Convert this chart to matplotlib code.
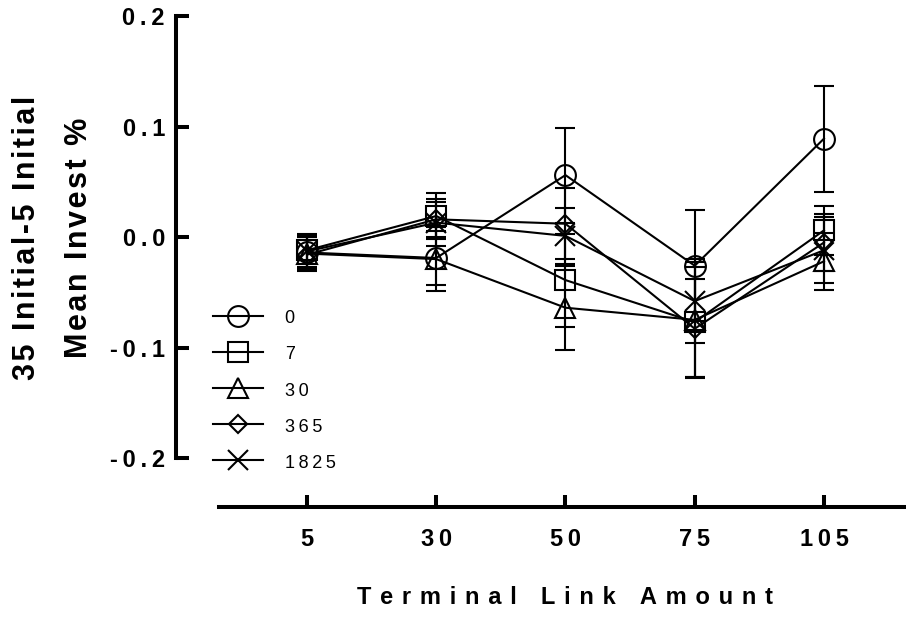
import matplotlib
matplotlib.use('Agg')
import matplotlib.pyplot as plt
from matplotlib.lines import Line2D

plt.rcParams['font.family'] = ['Liberation Sans', 'DejaVu Sans']

# ---------------- data ----------------
categories = ['5', '30', '50', '75', '105']
series_labels = ['0', '7', '30', '365', '1825']
mean_0 = [-0.014, -0.019, 0.056, -0.026, 0.089]
sem_0 = [0.014, 0.024, 0.043, 0.050, 0.048]
mean_7 = [-0.012, 0.019, -0.039, -0.077, 0.006]
sem_7 = [0.015, 0.021, 0.042, 0.050, 0.022]
mean_30 = [-0.015, -0.020, -0.064, -0.075, -0.022]
sem_30 = [0.016, 0.029, 0.038, 0.052, 0.026]
mean_365 = [-0.016, 0.016, 0.012, -0.083, -0.005]
sem_365 = [0.013, 0.016, 0.032, 0.045, 0.026]
mean_1825 = [-0.013, 0.013, 0.001, -0.058, -0.012]
sem_1825 = [0.015, 0.021, 0.025, 0.038, 0.030]
yticks = [-0.2, -0.1, 0.0, 0.1, 0.2]
ytick_labels = ['-0.2', '-0.1', '0.0', '0.1', '0.2']
xlabel = 'Terminal Link Amount'
ylabel_lines = ['35 Initial-5 Initial', 'Mean Invest %']

means = [mean_0, mean_7, mean_30, mean_365, mean_1825]
sems = [sem_0, sem_7, sem_30, sem_365, sem_1825]
markers = ['o', 's', '^', 'D', 'x']
msizes = [15, 15, 14, 9.5, 14.4]

TS = '\u2009'
HS = '\u200a'
def spaced(s, sep=TS):
    return sep.join(list(s))

W, H = 906, 629
fig = plt.figure(figsize=(W / 100, H / 100), dpi=100)
left_px, right_px, top_px, bottom_px = 176, 905, 10, 507
ax = fig.add_axes([left_px / W, 1 - bottom_px / H,
                   (right_px - left_px) / W, (bottom_px - top_px) / H])

x = list(range(len(categories)))
handles = []
for m, s, mk, ms, lab in zip(means, sems, markers, msizes, series_labels):
    ax.errorbar(x, m, yerr=s, color='black', lw=1.5, marker=mk, ms=ms,
                mfc='none', mec='black', mew=1.5, capsize=7, capthick=1.5,
                elinewidth=1.5, clip_on=False)
    handles.append(Line2D([], [], color='black', lw=1.5, marker=mk,
                          ms=ms, mfc='none', mec='black', mew=1.5))

ax.set_xlim(-1.0135, 4.627)
ax.set_ylim(-0.24434, 0.20543)
for sp in ['top', 'right']:
    ax.spines[sp].set_visible(False)
ax.spines['left'].set_linewidth(2.9)
ax.spines['bottom'].set_linewidth(2.9)
ax.spines['left'].set_bounds(-0.2, 0.2)
ax.spines['bottom'].set_bounds(-0.68, 4.627)

ax.set_yticks(yticks)
ax.set_yticklabels([spaced(t) for t in ytick_labels], fontsize=17, fontweight='bold')
ax.set_xticks(x)
ax.set_xticklabels([spaced(c) for c in categories], fontsize=17, fontweight='bold')
ax.tick_params(axis='y', direction='in', length=9, width=2.9, pad=8)
ax.tick_params(axis='x', direction='in', length=9, width=2.9, pad=15)

fig.text(565 / W, 1 - 598 / H, spaced(xlabel, TS + HS + HS), ha='center', va='center',
         fontsize=17, fontweight='bold')
fig.text(53 / W, 1 - 238 / H, '\n'.join(spaced(l, HS) for l in ylabel_lines),
         rotation=90, ha='center', va='center', multialignment='center',
         fontsize=22, fontweight='bold', linespacing=1.95)

ax.legend(handles, [spaced(l, TS) for l in series_labels], loc='upper left',
          bbox_to_anchor=(213 / W, 1 - 308 / H), bbox_transform=fig.transFigure,
          frameon=False, fontsize=13, handlelength=2.77, handletextpad=1.2,
          handleheight=1.2, labelspacing=0.93, borderpad=0, borderaxespad=0,
          numpoints=1)

fig.savefig('out.png', dpi=100)
